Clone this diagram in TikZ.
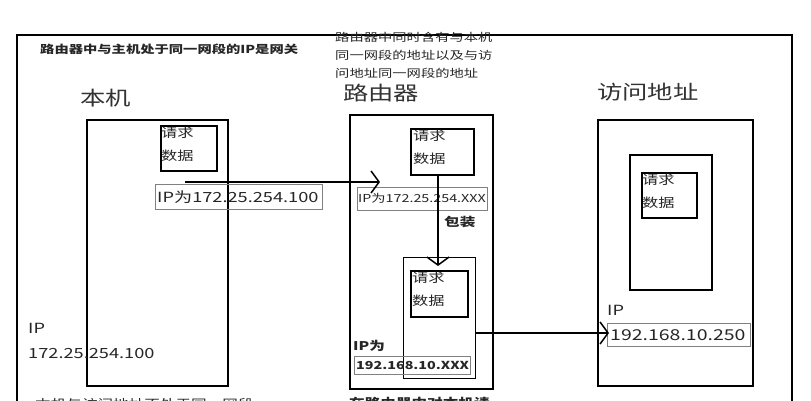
\documentclass[tikz,border=0pt]{standalone}
\usepackage{fontspec}
\setmainfont[FakeStretch=1.3]{Noto Sans CJK SC}
\usetikzlibrary{arrows.meta}
\begin{document}
\begin{tikzpicture}[x=1pt,y=-1pt,
  thick box/.style={draw,line width=2.6pt},
  mid box/.style={draw,line width=1.8pt},
  ip box/.style={draw=gray,line width=0.6pt},
  txt/.style={font=\fontsize{11}{13}\selectfont,anchor=west,inner sep=0pt,text=black!85},
  big/.style={font=\fontsize{19.5}{21}\selectfont,anchor=west,inner sep=0pt,text=black!80},
  req/.style={txt,align=left,anchor=north west,font=\fontsize{12.5}{23}\selectfont},
  flow/.style={line width=1.5pt,-{Straight Barb[length=8pt,width=22pt,line width=1.5pt]}}]
\useasboundingbox (0,0) rectangle (811,400);
\clip (0,0) rectangle (811,400);
\fill[white] (0,0) rectangle (811,400);
\draw[line width=2.2pt] (17,420) -- (17,35) -- (792,35) -- (792,420);
\node[txt,font=\bfseries\fontsize{11}{13}\selectfont] (t1) at (40,49) {路由器中与主机处于同一网段的IP是网关};
\node[txt,align=left,anchor=north west,font=\fontsize{11}{18}\selectfont] (t2) at (335,32) {路由器中同时含有与本机\\同一网段的地址以及与访\\问地址同一网段的地址};
\node[big] (h1) at (80,98) {本机};
\node[big] (h2) at (343,93) {路由器};
\node[big] (h3) at (597,92) {访问地址};
% local
\draw[thick box] (87,120) rectangle (228,386);
\node[mid box,minimum width=56pt,minimum height=45pt,anchor=north west,inner sep=0pt] (ld) at (160,125) {};
\node[req] (ldt) at (161,127) {请求\\数据};
\node[ip box,anchor=north west,minimum width=167pt,minimum height=25pt,inner sep=0pt] (lip) at (155,184) {};
\node[txt,font=\fontsize{14}{16}\selectfont] (lipt) at (157,197) {IP为172.25.254.100};
\node[txt,font=\fontsize{14}{16}\selectfont] (lip2) at (28,328) {IP};
\node[txt,font=\fontsize{14}{16}\selectfont] (lip3) at (28,354) {172.25.254.100};
\node[txt,font=\fontsize{12}{14}\selectfont] (b1) at (35,404) {本机与访问地址不处于同一网段};
% router
\draw[thick box] (350,115) rectangle (493,389);
\node[mid box,minimum width=63pt,minimum height=46pt,anchor=north west,inner sep=0pt] (rd) at (410,128) {};
\node[req] (rdt) at (413,130) {请求\\数据};
\node[ip box,anchor=north west,minimum width=130pt,minimum height=23pt,inner sep=0pt] (rip) at (357,187) {};
\node[txt,font=\fontsize{11}{12}\selectfont] (ript) at (358,198) {IP为172.25.254.XXX};
\node[draw,line width=1.4pt,minimum width=72pt,minimum height=121pt,anchor=north west,inner sep=0pt] (rw) at (403,257) {};
\node[mid box,minimum width=57pt,minimum height=46pt,anchor=north west,inner sep=0pt] (rd2) at (410,270) {};
\node[req] (rd2t) at (412,272) {请求\\数据};
\node[txt,font=\bfseries\fontsize{12}{13}\selectfont] (pk) at (444,222) {包装};
\node[txt,font=\bfseries\fontsize{12}{13}\selectfont] (ripw) at (353,346) {IP为};
\node[ip box,anchor=north west,minimum width=116pt,minimum height=18pt,inner sep=0pt] (rip2) at (354,356) {};
\node[txt,font=\bfseries\fontsize{11}{12}\selectfont] (rip2t) at (356,365) {192.168.10.XXX};
\node[txt,font=\bfseries\fontsize{12}{13}\selectfont] (b2) at (349,403) {在路由器中对本机请};
% destination
\draw[thick box] (598,120) rectangle (753,386);
\draw[mid box] (630,155) rectangle (712,290);
\node[mid box,minimum width=55pt,minimum height=45pt,anchor=north west,inner sep=0pt] (dd) at (641,172) {};
\node[req] (ddt) at (642,174) {请求\\数据};
\node[txt,font=\fontsize{14}{16}\selectfont] (dip) at (607,310) {IP};
\node[ip box,anchor=north west,minimum width=143pt,minimum height=23pt,inner sep=0pt] (dipb) at (607,323) {};
\node[txt,font=\fontsize{15}{16}\selectfont] (dipt) at (610,335) {192.168.10.250};
% flows
\coordinate (a1) at (185,182);
\coordinate (a2) at (380,182);
\draw[flow] (a1) -- (a2);
\draw[flow] (rd.south -| 438,0) -- (438,266);
\coordinate (c1) at (475,333);
\coordinate (c2) at (609,333);
\draw[flow] (c1) -- (c2);
\end{tikzpicture}
\end{document}
